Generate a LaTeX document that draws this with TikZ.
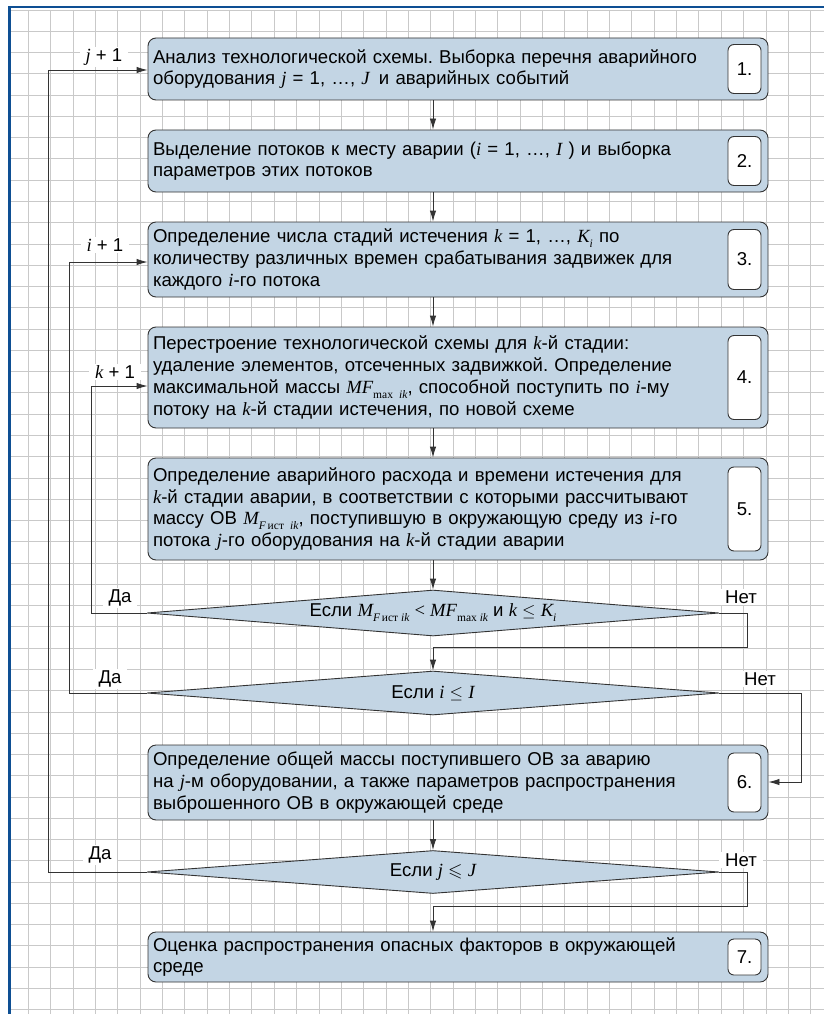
\documentclass[tikz,border=0pt]{standalone}
\usepackage{fontspec}
\usepackage{amssymb}
\setmainfont{Liberation Sans}
\newfontfamily\varfont{Liberation Serif}
\usetikzlibrary{arrows.meta}
\usetikzlibrary{shapes.geometric}

\definecolor{boxfill}{HTML}{C3D5E4}
\definecolor{lineclr}{HTML}{333333}
\definecolor{gridclr}{HTML}{C9C9C9}
\definecolor{frameclr}{HTML}{0E4F93}

\frenchspacing
\newcommand{\mvar}[1]{{\varfont\itshape #1}}
\newcommand{\msub}[1]{\raisebox{-0.5ex}{\varfont\fontsize{11.5}{11.5}\selectfont #1}}
\newcommand{\txtfont}{\fontsize{18.6}{21.7}\selectfont}

\begin{document}
\begin{tikzpicture}[x=1pt,y=-1pt,
  box/.style={draw=lineclr,fill=boxfill,rounded corners=8pt,line width=0.9pt,
    minimum width=620pt,text width=610pt,inner xsep=5pt,align=left,font=\txtfont},
  numbox/.style={draw=lineclr,fill=white,rounded corners=6pt,line width=0.9pt,
    minimum width=33pt,inner sep=0pt,anchor=east,font=\txtfont},
  cond/.style={diamond,draw=lineclr,fill=boxfill,line width=0.9pt,aspect=12,
    minimum width=572pt,inner sep=0pt,font=\txtfont},
  flow/.style={draw=lineclr,line width=0.9pt,-{Latex[length=11pt,width=6.5pt]}},
  lbl/.style={fill=white,inner xsep=6pt,inner ysep=2pt,font=\txtfont},
  gridline/.style={draw=gridclr,line width=0.8pt}]

\fill[white] (0,0) rectangle (824,1014);
\useasboundingbox (0,0) rectangle (824,1014);

% grid paper
\foreach \gx in {0,...,35}
  \draw[gridline] (28.35+22.35*\gx,10) -- (28.35+22.35*\gx,1014);
\foreach \gy in {0,...,47}
  \draw[gridline] (10,10+21.27*\gy) -- (824,10+21.27*\gy);
\draw[frameclr,line width=2.6pt] (9.5,1014) -- (9.5,7) -- (824,7);

% steps
\node[box,minimum height=62pt] (b1) at (458,69)
  {Анализ технологической схемы. Выборка перечня аварийного\\
   оборудования \mvar{j} = 1, …, \mvar{J}\enspace и аварийных событий};
\node[box,minimum height=62pt] (b2) at (458,161)
  {Выделение потоков к месту аварии (\mvar{i} = 1, …, \mvar{I} ) и выборка\\
   параметров этих потоков};
\node[box,minimum height=75pt] (b3) at (458,259.5)
  {Определение числа стадий истечения \mvar{k} = 1, …, \mvar{K}\msub{\mvar{i}} по\\
   количеству различных времен срабатывания задвижек для\\
   каждого \mvar{i}-го потока};
\node[box,minimum height=101pt] (b4) at (458,377.5)
  {Перестроение технологической схемы для \mvar{k}-й стадии:\\
   удаление элементов, отсеченных задвижкой. Определение\\
   максимальной массы \mvar{MF}\msub{max \mvar{ik}}, способной поступить по \mvar{i}-му\\
   потоку на \mvar{k}-й стадии истечения, по новой схеме};
\node[box,minimum height=102pt] (b5) at (458,509)
  {Определение аварийного расхода и времени истечения для\\
   \mvar{k}-й стадии аварии, в соответствии с которыми рассчитывают\\
   массу ОВ \mvar{M}\msub{\mvar{F}\,ист \mvar{ik}}, поступившую в окружающую среду из \mvar{i}-го\\
   потока \mvar{j}-го оборудования на \mvar{k}-й стадии аварии};
\node[cond,minimum height=46pt] (d1) at (433,613)
  {Если \mvar{M}\msub{\mvar{F}\,ист \mvar{ik}} {\varfont <} \mvar{MF}\msub{max \mvar{ik}} и \mvar{k} $\le$ \mvar{K}\msub{\mvar{i}}};
\node[cond,minimum height=44pt] (d2) at (433,693)
  {Если \mvar{i} $\le$ \mvar{I}};
\node[box,minimum height=75pt] (b6) at (458,782.5)
  {Определение общей массы поступившего ОВ за аварию\\
   на \mvar{j}-м оборудовании, а также параметров распространения\\
   выброшенного ОВ в окружающей среде};
\node[cond,minimum height=43pt] (d3) at (433,872)
  {Если \mvar{j} $\leqslant$ \mvar{J}};
\node[box,minimum height=50pt] (b7) at (458,957)
  {Оценка распространения опасных факторов в окружающей\\
   среде};

% step numbers
\node[numbox,minimum height=49pt] (n1) at ([xshift=-7pt]b1.east) {1.};
\node[numbox,minimum height=49pt] (n2) at ([xshift=-7pt]b2.east) {2.};
\node[numbox,minimum height=60pt] (n3) at ([xshift=-7pt]b3.east) {3.};
\node[numbox,minimum height=84pt] (n4) at ([xshift=-7pt]b4.east) {4.};
\node[numbox,minimum height=84pt] (n5) at ([xshift=-7pt]b5.east) {5.};
\node[numbox,minimum height=59pt] (n6) at ([xshift=-7pt]b6.east) {6.};
\node[numbox,minimum height=36pt] (n7) at ([xshift=-7pt]b7.east) {7.};

% main flow
\coordinate (ax) at (433,0);
\foreach \a/\b in {b1/b2,b2/b3,b3/b4,b4/b5,b5/d1,b6/d3}
  \draw[flow] (\a.south -| ax) -- (\b.north -| ax);

% loops back
\coordinate (jx) at (48,70);
\coordinate (ix) at (69,262);
\coordinate (kx) at (91,386);
\draw[flow] (d3.west) -| (jx) -- (jx -| b1.west);
\draw[flow] (d2.west) -| (ix) -- (ix -| b3.west);
\draw[flow] (d1.west) -| (kx) -- (kx -| b4.west);

% exits
\coordinate (r1) at (747,647);
\coordinate (r2) at (801,782);
\coordinate (r3) at (747,906);
\draw[flow] (d1.east) -| (r1) -| (d2.north);
\draw[flow] (d2.east) -| (r2) -- (r2 -| b6.east);
\draw[flow] (d3.east) -| (r3) -| (b7.north -| ax);

% labels
\node[lbl] (lj) at (104,57) {\mvar{j} + 1};
\node[lbl] (li) at (105,245) {\mvar{i} + 1};
\node[lbl] (lk) at (115,372) {\mvar{k} + 1};
\node[lbl] (y1) at (120,598) {Да};
\node[lbl] (y2) at (110,679) {Да};
\node[lbl] (y3) at (100,855) {Да};
\node[lbl] (no1) at (741,597) {Нет};
\node[lbl] (no2) at (760,679) {Нет};
\node[lbl] (no3) at (741,860) {Нет};

\end{tikzpicture}
\end{document}
